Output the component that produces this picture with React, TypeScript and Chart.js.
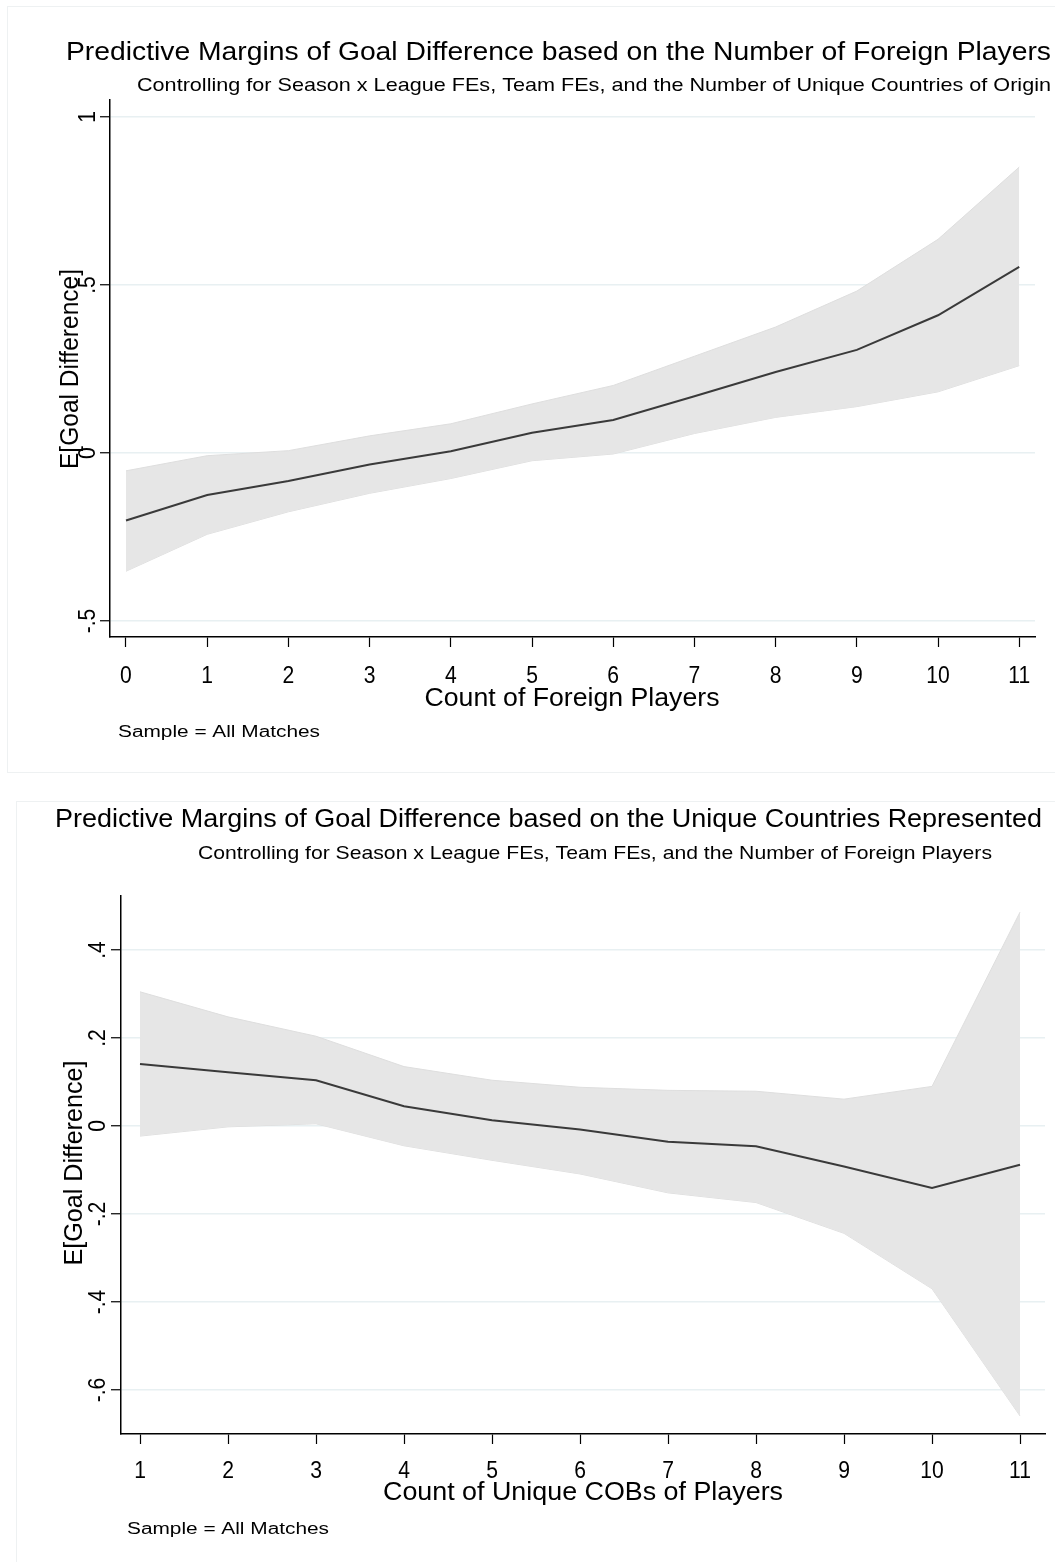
import React, { useEffect, useRef } from "react";
import { Chart, registerables } from "chart.js";

Chart.register(...registerables);

const FONT = "'Liberation Sans', Arial, Helvetica, sans-serif";

// ---------- Data: top panel (Count of Foreign Players) ----------
const TOP_X = [0, 1, 2, 3, 4, 5, 6, 7, 8, 9, 10, 11];
const TOP_MEAN = [-0.201, -0.125, -0.083, -0.034, 0.005, 0.06, 0.098, 0.169, 0.241, 0.307, 0.41, 0.554];
const TOP_UPPER = [-0.053, -0.008, 0.007, 0.051, 0.087, 0.146, 0.201, 0.288, 0.375, 0.482, 0.636, 0.851];
const TOP_LOWER = [-0.352, -0.242, -0.175, -0.12, -0.076, -0.023, -0.003, 0.058, 0.106, 0.138, 0.182, 0.26];
const TOP_YTICKS = [-0.5, 0, 0.5, 1];
const TOP_XTICKS = [0, 1, 2, 3, 4, 5, 6, 7, 8, 9, 10, 11];

// ---------- Data: bottom panel (Count of Unique COBs) ----------
const BOT_X = [1, 2, 3, 4, 5, 6, 7, 8, 9, 10, 11];
const BOT_MEAN = [0.141, 0.122, 0.104, 0.045, 0.013, -0.008, -0.036, -0.046, -0.092, -0.141, -0.088];
const BOT_UPPER = [0.305, 0.248, 0.204, 0.135, 0.104, 0.088, 0.081, 0.079, 0.061, 0.09, 0.486];
const BOT_LOWER = [-0.023, -0.002, 0.005, -0.045, -0.078, -0.109, -0.152, -0.174, -0.244, -0.37, -0.659];
const BOT_YTICKS = [-0.6, -0.4, -0.2, 0, 0.2, 0.4];
const BOT_XTICKS = [1, 2, 3, 4, 5, 6, 7, 8, 9, 10, 11];

const TITLES = [
  "Predictive Margins of Goal Difference based on the Number of Foreign Players",
  "Predictive Margins of Goal Difference based on the Unique Countries Represented",
];
const SUBTITLES = [
  "Controlling for Season x League FEs, Team FEs, and the Number of Unique Countries of Origin",
  "Controlling for Season x League FEs, Team FEs, and the Number of Foreign Players",
];
const X_TITLES = ["Count of Foreign Players", "Count of Unique COBs of Players"];
const Y_TITLE = "E[Goal Difference]";
const NOTE = "Sample = All Matches";

function fmt(v: number): string {
  const r = Math.round(v * 100) / 100;
  if (r === 0) return "0";
  let s = String(r);
  s = s.replace(/^0\./, ".").replace(/^-0\./, "-.");
  return s;
}

function txt(
  ctx: CanvasRenderingContext2D,
  s: string,
  x: number,
  y: number,
  size: number,
  opt: { align?: CanvasTextAlign; width?: number; rot?: boolean; sx?: number } = {}
) {
  ctx.save();
  ctx.font = `${size}px ${FONT}`;
  ctx.fillStyle = "#000";
  ctx.textAlign = opt.align || "center";
  ctx.textBaseline = "alphabetic";
  ctx.translate(x, y);
  if (opt.rot) ctx.rotate(-Math.PI / 2);
  if (opt.width) {
    const w = ctx.measureText(s).width;
    if (w > 0) ctx.scale(opt.width / w, 1);
  } else if (opt.sx) {
    ctx.scale(opt.sx, 1);
  }
  ctx.fillText(s, 0, 0);
  ctx.restore();
}

type Panel = {
  idx: number;
  top: number;
  height: number;
  pad: { left: number; right: number; top: number; bottom: number };
  xScaleH: number;
  xr: [number, number];
  yr: [number, number];
  xs: number[];
  mean: number[];
  upper: number[];
  lower: number[];
  xticks: number[];
  yticks: number[];
  t: {
    title: [number, number, number];
    sub: [number, number, number];
    yTitle: [number, number, number];
    yTickX: number;
    xTickY: number;
    xTitle: [number, number, number];
    note: [number, number, number];
  };
};

const PANELS: Panel[] = [
  {
    idx: 0,
    top: 0,
    height: 785,
    pad: { left: 100, right: 20, top: 100, bottom: 0 },
    xScaleH: 148,
    xr: [-0.197, 11.194],
    yr: [-0.5476, 1.0506],
    xs: TOP_X,
    mean: TOP_MEAN,
    upper: TOP_UPPER,
    lower: TOP_LOWER,
    xticks: TOP_XTICKS,
    yticks: TOP_YTICKS,
    t: {
      title: [558.5, 60, 985],
      sub: [594, 91, 914],
      yTitle: [78, 369, 200],
      yTickX: 94.5,
      xTickY: 683,
      xTitle: [572, 706, 295],
      note: [118, 737, 202],
    },
  },
  {
    idx: 1,
    top: 785,
    height: 777,
    pad: { left: 111, right: 10, top: 111, bottom: 0 },
    xScaleH: 128,
    xr: [0.784, 11.284],
    yr: [-0.7, 0.5227],
    xs: BOT_X,
    mean: BOT_MEAN,
    upper: BOT_UPPER,
    lower: BOT_LOWER,
    xticks: BOT_XTICKS,
    yticks: BOT_YTICKS,
    t: {
      title: [548.5, 42, 987],
      sub: [595, 74, 794],
      yTitle: [82, 378, 205],
      yTickX: 104.5,
      xTickY: 693,
      xTitle: [583, 715, 400],
      note: [127, 749, 202],
    },
  },
];

function PanelChart({ p }: { p: Panel }) {
  const ref = useRef<HTMLCanvasElement | null>(null);
  useEffect(() => {
    if (!ref.current) return;
    const toPts = (ys: number[]) => p.xs.map((x, i) => ({ x, y: ys[i] }));
    const textPlugin = {
      id: "stataText" + p.idx,
      afterDraw(chart: any) {
        const ctx: CanvasRenderingContext2D = chart.ctx;
        const t = p.t;
        txt(ctx, TITLES[p.idx], t.title[0], t.title[1], 26, { width: t.title[2] });
        txt(ctx, SUBTITLES[p.idx], t.sub[0], t.sub[1], 19, { width: t.sub[2] });
        txt(ctx, Y_TITLE, t.yTitle[0], t.yTitle[1], 25, { rot: true, width: t.yTitle[2] });
        txt(ctx, X_TITLES[p.idx], t.xTitle[0], t.xTitle[1], 25, { width: t.xTitle[2] });
        txt(ctx, NOTE, t.note[0], t.note[1], 16, { align: "left", width: t.note[2] });
        const ys = chart.scales.y;
        p.yticks.forEach((v) => {
          txt(ctx, fmt(v), t.yTickX, ys.getPixelForValue(v), 24, { rot: true, sx: 0.88 });
        });
        const xsc = chart.scales.x;
        p.xticks.forEach((v) => {
          txt(ctx, fmt(v), xsc.getPixelForValue(v), t.xTickY, 24, { sx: 0.88 });
        });
      },
    };
    const chart = new Chart(ref.current, {
      type: "line",
      data: {
        datasets: [
          {
            label: "Margin",
            data: toPts(p.mean),
            borderColor: "#3a3a3a",
            borderWidth: 2,
            pointRadius: 0,
            fill: false,
            tension: 0,
          },
          {
            label: "Upper",
            data: toPts(p.upper),
            borderColor: "#dedede",
            borderWidth: 1,
            pointRadius: 0,
            backgroundColor: "#e6e6e6",
            fill: "+1",
            tension: 0,
          },
          {
            label: "Lower",
            data: toPts(p.lower),
            borderColor: "#dedede",
            borderWidth: 1,
            pointRadius: 0,
            fill: false,
            tension: 0,
          },
        ],
      },
      options: {
        animation: false,
        responsive: false,
        maintainAspectRatio: false,
        events: [],
        layout: { padding: p.pad },
        plugins: {
          legend: { display: false },
          tooltip: { enabled: false },
          title: { display: false },
        },
        scales: {
          x: {
            type: "linear",
            min: p.xr[0],
            max: p.xr[1],
            afterBuildTicks: (s: any) => {
              s.ticks = p.xticks.map((v) => ({ value: v }));
            },
            afterFit: (s: any) => {
              s.height = p.xScaleH;
            },
            ticks: { display: false },
            grid: {
              display: true,
              drawOnChartArea: false,
              drawTicks: true,
              tickLength: 10,
              tickColor: "#000",
              tickWidth: 1.2,
            },
            border: { display: true, color: "#000", width: 1.5 },
          },
          y: {
            type: "linear",
            min: p.yr[0],
            max: p.yr[1],
            afterBuildTicks: (s: any) => {
              s.ticks = p.yticks.map((v) => ({ value: v }));
            },
            afterFit: (s: any) => {
              s.width = 10;
            },
            ticks: { display: false },
            grid: {
              display: true,
              drawOnChartArea: true,
              drawTicks: true,
              tickLength: 10,
              color: "#e8f0f2",
              lineWidth: 1.5,
              tickColor: "#000",
              tickWidth: 1.2,
            },
            border: { display: true, color: "#000", width: 1.5 },
          },
        },
      },
      plugins: [textPlugin],
    } as any);
    return () => chart.destroy();
  }, [p]);
  return (
    <canvas
      ref={ref}
      width={1055}
      height={p.height}
      style={{ position: "absolute", left: 0, top: p.top, width: 1055, height: p.height }}
    />
  );
}

export default function App() {
  return (
    <div style={{ position: "absolute", left: 0, top: 0, width: 1055, height: 1562, background: "#fff", overflow: "hidden" }}>
      <div
        style={{
          position: "absolute",
          left: 7,
          top: 6,
          width: 1100,
          height: 767,
          border: "1px solid #eef1f2",
          boxSizing: "border-box",
        }}
      />
      <div
        style={{
          position: "absolute",
          left: 16,
          top: 801,
          width: 1100,
          height: 800,
          border: "1px solid #eef1f2",
          boxSizing: "border-box",
        }}
      />
      {PANELS.map((p) => (
        <PanelChart key={p.idx} p={p} />
      ))}
    </div>
  );
}
